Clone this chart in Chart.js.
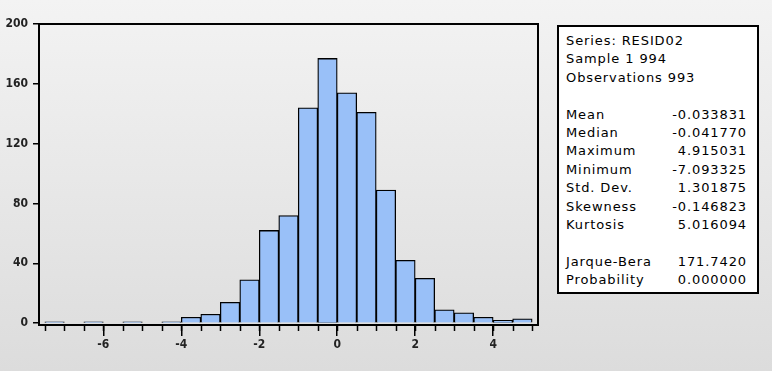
<!DOCTYPE html>
<html>
<head>
<meta charset="utf-8">
<script src="https://cdn.jsdelivr.net/npm/chart.js@4"></script>
<style>
    html, body {
        margin: 0;
        padding: 0;
        width: 772px;
        height: 371px;
        overflow: hidden;
        background: linear-gradient(#f3f3f3, #dcdcdc);
    }
    #wrap {
        position: relative;
        width: 772px;
        height: 371px;
    }
    #hist-chart {
        position: absolute;
        left: 0;
        top: 0;
    }
    #stats-box {
        position: absolute;
        left: 557px;
        top: 25px;
        width: 202px;
        height: 269px;
        box-sizing: border-box;
        border: 2px solid #000;
        background: #fff;
        padding: 5px 10px 0 7px;
        font-family: "DejaVu Sans", Verdana, sans-serif;
        font-size: 13px;
        letter-spacing: 0.9px;
        line-height: 18.4px;
        color: #000;
    }
    #stats-box .row {
        display: flex;
        justify-content: space-between;
        white-space: nowrap;
    }
    #stats-box .gap {
        height: 18.4px;
    }
</style>
</head>
<body>
<div id="wrap">
    <canvas id="hist-chart" width="772" height="371"></canvas>
    <div id="stats-box"></div>
</div>
<script>
// histogram bins (centres, width 0.5) and counts
const binCenters = [-7.25, -6.75, -6.25, -5.75, -5.25, -4.75, -4.25, -3.75, -3.25, -2.75, -2.25, -1.75,
    -1.25, -0.75, -0.25, 0.25, 0.75, 1.25, 1.75, 2.25, 2.75, 3.25, 3.75, 4.25, 4.75];
const binCounts = [1, 0, 1, 0, 1, 0, 1, 4, 6, 14, 29, 62,
    72, 144, 177, 154, 141, 89, 42, 30, 9, 7, 4, 2, 3];
const binHalfWidth = 0.25;

const xMajorTicks = [-6, -4, -2, 0, 2, 4];
const yTicks = [0, 40, 80, 120, 160, 200];

// statistics panel
const headerLines = ["Series: RESID02", "Sample 1 994", "Observations 993"];
const statLabels = ["Mean", "Median", "Maximum", "Minimum", "Std. Dev.", "Skewness", "Kurtosis"];
const statValues = ["-0.033831", "-0.041770", "4.915031", "-7.093325", "1.301875", "-0.146823", "5.016094"];
const testLabels = ["Jarque-Bera", "Probability"];
const testValues = ["171.7420", "0.000000"];

const axisFont = {
    family: "'Liberation Sans Narrow', 'DejaVu Sans Condensed', 'Liberation Sans', sans-serif",
    size: 12,
    weight: 'bold'
};

function buildStatsBox() {
    const box = document.getElementById('stats-box');

    function addRow(label, value) {
        const row = document.createElement('div');
        row.className = 'row';
        const l = document.createElement('span');
        l.textContent = label;
        row.appendChild(l);
        if (value !== undefined) {
            const v = document.createElement('span');
            v.textContent = value;
            row.appendChild(v);
        }
        box.appendChild(row);
    }

    function addGap() {
        const g = document.createElement('div');
        g.className = 'gap';
        box.appendChild(g);
    }

    headerLines.forEach(line => addRow(line));
    addGap();
    statLabels.forEach((label, i) => addRow(label, statValues[i]));
    addGap();
    testLabels.forEach((label, i) => addRow(label, testValues[i]));
}

// frame round the plot area and the short ticks at every bin edge
const framePlugin = {
    id: 'frame',
    afterDraw(chart) {
        const ctx = chart.ctx;
        const area = chart.chartArea;
        const xScale = chart.scales.x;

        ctx.save();
        ctx.strokeStyle = '#000';
        ctx.lineWidth = 2;
        ctx.strokeRect(area.left, area.top, area.right - area.left, area.bottom - area.top);

        ctx.lineWidth = 1.5;
        ctx.beginPath();
        binCenters.forEach(c => {
            [c - binHalfWidth, c + binHalfWidth].forEach(edge => {
                const px = Math.round(xScale.getPixelForValue(edge)) + 0.5;
                ctx.moveTo(px, area.bottom);
                ctx.lineTo(px, area.bottom + 6);
            });
        });
        ctx.stroke();
        ctx.restore();
    }
};

const config = {
    type: 'bar',
    data: {
        datasets: [
            {
                data: binCenters.map((c, i) => ({x: c, y: binCounts[i]})),
                backgroundColor: '#99c0f8',
                borderColor: '#000',
                borderWidth: 1.3,
                barPercentage: 1,
                categoryPercentage: 1,
                grouped: false
            }
        ]
    },
    options: {
        responsive: false,
        animation: false,
        layout: {
            padding: {left: 0, top: 24, right: 234, bottom: 0}
        },
        plugins: {
            legend: {display: false},
            tooltip: {enabled: false}
        },
        scales: {
            x: {
                type: 'linear',
                offset: false,
                min: -7.65,
                max: 5.15,
                afterBuildTicks: function (scale) {
                    scale.ticks = xMajorTicks.map(v => ({value: v}));
                },
                afterFit: function (scale) {
                    scale.height = 46;
                },
                grid: {
                    offset: false,
                    drawOnChartArea: false,
                    tickLength: 11,
                    tickColor: '#000',
                    lineWidth: 1.5
                },
                border: {color: '#000', width: 2},
                ticks: {
                    color: '#222',
                    font: axisFont,
                    padding: 2,
                    maxRotation: 0
                }
            },
            y: {
                min: -1.2,
                max: 200,
                afterBuildTicks: function (scale) {
                    scale.ticks = yTicks.map(v => ({value: v}));
                },
                afterFit: function (scale) {
                    scale.width = 39;
                },
                grid: {
                    drawOnChartArea: false,
                    tickLength: 6,
                    tickColor: '#000',
                    lineWidth: 1.5
                },
                border: {color: '#000', width: 2},
                ticks: {
                    color: '#222',
                    font: axisFont,
                    padding: 5
                }
            }
        }
    },
    plugins: [framePlugin]
};

buildStatsBox();
new Chart(document.getElementById('hist-chart'), config);
</script>
</body>
</html>
